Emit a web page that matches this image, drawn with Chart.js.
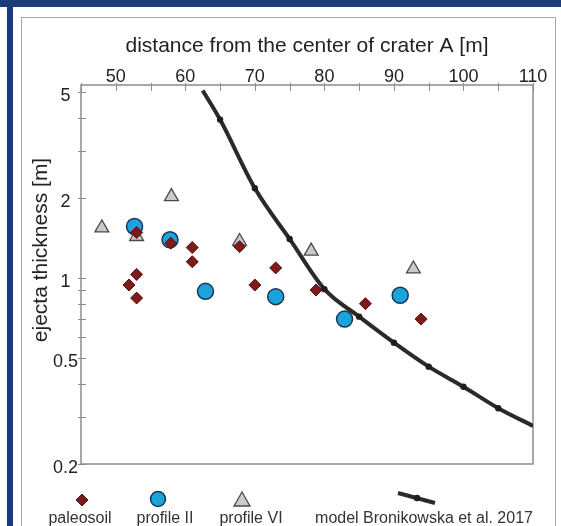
<!DOCTYPE html>
<html><head><meta charset="utf-8">
<script src="https://cdn.jsdelivr.net/npm/chart.js@4.4.1/dist/chart.umd.min.js"></script>
<style>
html,body{margin:0;padding:0;background:#fff;}
#wrap{position:relative;width:561px;height:526px;overflow:hidden;background:#fff;}
#navyTop{position:absolute;left:0;top:0;width:561px;height:7px;background:#1b3b7b;}
#navyLeft{position:absolute;left:7px;top:0;width:6px;height:526px;background:#1b3b7b;}
#frame{position:absolute;left:21px;top:17px;width:535px;height:600px;border:1.5px solid #a8a8a8;box-sizing:border-box;}
canvas{position:absolute;left:0;top:0;}
#ytitle{position:absolute;left:40px;top:250px;transform:translate(-50%,-50%) rotate(-90deg);font:21px "Liberation Sans",Arial,sans-serif;color:#222;white-space:nowrap;}
.lg{position:absolute;top:518px;transform:translate(-50%,-50%);font:16px "Liberation Sans",Arial,sans-serif;color:#333;white-space:nowrap;}
#lgsvg{position:absolute;left:0;top:0;}
</style></head>
<body>
<div id="wrap">
  <div id="navyTop"></div><div id="navyLeft"></div><div id="frame"></div>
  <canvas id="c" width="561" height="526"></canvas>
  <div id="ytitle">ejecta thickness [m]</div>
  <svg id="lgsvg" width="561" height="526"></svg>
  <div id="legend"></div>
</div>
<script>
// ---- data ----
const paleosoilX = [53.0, 57.9, 61.0, 61.0, 53.0, 51.9, 53.0, 67.8, 73.0, 70.0, 78.8, 85.9, 93.9];
const paleosoilY = [1.48, 1.35, 1.30, 1.15, 1.03, 0.94, 0.84, 1.31, 1.09, 0.94, 0.90, 0.80, 0.70];
const profile2X = [52.7, 57.8, 62.9, 73.0, 82.9, 90.9];
const profile2Y = [1.56, 1.39, 0.89, 0.85, 0.70, 0.86];
const profile6X = [48.0, 53.0, 58.0, 67.8, 78.1, 92.8];
const profile6Y = [1.54, 1.43, 2.02, 1.37, 1.26, 1.08];
const modelX = [62.5, 65, 70, 75, 80, 85, 90, 95, 100, 105, 110];
const modelY = [5.05, 3.93, 2.17, 1.40, 0.907, 0.715, 0.571, 0.464, 0.390, 0.324, 0.278];
const xTickValues = [45, 50, 55, 60, 65, 70, 75, 80, 85, 90, 95, 100, 105, 110];
const xTickLabels = [50, 60, 70, 80, 90, 100, 110];
const yTickValues = [0.2, 0.3, 0.4, 0.5, 0.6, 0.7, 0.8, 0.9, 1, 2, 3, 4, 5];
const yTickLabels = [0.2, 0.5, 1, 2, 5];
const seriesNames = ['paleosoil', 'profile II', 'profile VI', 'model Bronikowska et al. 2017'];
const xTitle = 'distance from the center of crater A [m]';

const FONT = '"Liberation Sans", Arial, sans-serif';
const C_PALEO = '#7d1b1b', C_PALEO_B = '#5a0f0f';
const C_P2 = '#1ba3dc', C_P2_B = '#1d3550';
const C_P6 = '#c9cbc9', C_P6_B = '#4a4a4a';
const C_MODEL = '#2a2a2a';

const pts = (xs, ys) => xs.map((x, i) => ({x, y: ys[i]}));

const frameTicks = {
  id: 'frameTicks',
  beforeDatasetsDraw(chart) {
    const {ctx, chartArea: a, scales: {x, y}} = chart;
    ctx.save();
    ctx.strokeStyle = '#8c8c8c'; ctx.lineWidth = 1.5;
    ctx.strokeRect(a.left, a.top, a.right - a.left, a.bottom - a.top);
    ctx.lineWidth = 1;
    ctx.beginPath();
    x.ticks.forEach(t => { const px = Math.round(x.getPixelForValue(t.value)) + 0.5; ctx.moveTo(px, a.top - 2); ctx.lineTo(px, a.top + 6); });
    y.ticks.forEach(t => { const py = Math.round(y.getPixelForValue(t.value)) + 0.5; ctx.moveTo(a.left - 3, py); ctx.lineTo(a.left + 5, py); });
    ctx.stroke();
    ctx.restore();
  }
};

new Chart(document.getElementById('c'), {
  type: 'scatter',
  data: {
    datasets: [
      {label: seriesNames[3], type: 'line', data: pts(modelX, modelY), borderColor: C_MODEL, borderWidth: 4,
       backgroundColor: C_MODEL, pointRadius: modelX.map((v, i) => (i === 0 || i === modelX.length - 1) ? 0 : 3.2),
       pointBackgroundColor: '#1e1e1e', pointBorderWidth: 0, cubicInterpolationMode: 'monotone', fill: false, order: 0},
      {label: seriesNames[0], data: pts(paleosoilX, paleosoilY), pointStyle: 'rectRot', pointRadius: 6,
       backgroundColor: C_PALEO, borderColor: C_PALEO_B, borderWidth: 1, order: 1},
      {label: seriesNames[1], data: pts(profile2X, profile2Y), pointStyle: 'circle', pointRadius: 8,
       backgroundColor: C_P2, borderColor: C_P2_B, borderWidth: 1.5, order: 2},
      {label: seriesNames[2], data: pts(profile6X, profile6Y), pointStyle: 'triangle', pointRadius: 8,
       backgroundColor: C_P6, borderColor: C_P6_B, borderWidth: 1.3, order: 3}
    ]
  },
  options: {
    responsive: false, animation: false, devicePixelRatio: 1,
    layout: {padding: {left: 25, right: 28, top: 20, bottom: 62}},
    plugins: {legend: {display: false}, tooltip: {enabled: false}},
    scales: {
      x: {
        type: 'linear', position: 'top', min: 45, max: 110,
        grid: {display: false, drawTicks: false}, border: {display: false},
        afterBuildTicks: s => { s.ticks = xTickValues.map(v => ({value: v})); },
        ticks: {autoSkip: false, maxRotation: 0, padding: -3, color: '#222', font: {family: FONT, size: 18},
                callback: v => xTickLabels.includes(v) ? String(v) : ''},
        title: {display: true, text: xTitle, color: '#222', font: {family: FONT, size: 21}, padding: {top: 14, bottom: 0}},
        afterFit: s => { s.height = 65; }
      },
      y: {
        type: 'logarithmic', min: 0.2, max: 5.3,
        grid: {display: false, drawTicks: false}, border: {display: false},
        afterBuildTicks: s => { s.ticks = yTickValues.map(v => ({value: v})); },
        ticks: {autoSkip: false, padding: 3, crossAlign: 'center', labelOffset: 4, color: '#222', font: {family: FONT, size: 18},
                callback: v => yTickLabels.includes(v) ? String(v) : ''},
        afterFit: s => { s.width = 56; }
      }
    }
  },
  plugins: [frameTicks]
});

// ---- legend (symbol above text) ----
const svg = document.getElementById('lgsvg');
svg.innerHTML =
  `<polygon points="82,494 88,500 82,506 76,500" fill="${C_PALEO}" stroke="${C_PALEO_B}" stroke-width="1"/>` +
  `<circle cx="158" cy="499" r="7.5" fill="${C_P2}" stroke="${C_P2_B}" stroke-width="1.5"/>` +
  `<polygon points="242,492 250,506 234,506" fill="${C_P6}" stroke="${C_P6_B}" stroke-width="1.3"/>` +
  `<line x1="398" y1="493" x2="435" y2="503" stroke="${C_MODEL}" stroke-width="4"/>` +
  `<circle cx="417" cy="498" r="3.3" fill="#1e1e1e"/>`;
const lgPos = [80, 165, 251, 424];
const lg = document.getElementById('legend');
seriesNames.forEach((n, i) => {
  const d = document.createElement('div');
  d.className = 'lg'; d.style.left = lgPos[i] + 'px'; d.textContent = n;
  lg.appendChild(d);
});
</script>
</body></html>
